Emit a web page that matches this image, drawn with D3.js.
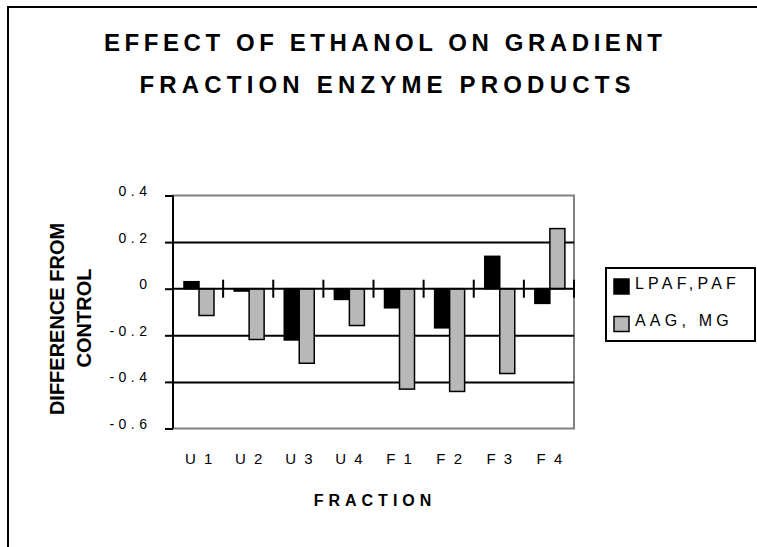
<!DOCTYPE html>
<html>
<head>
<meta charset="utf-8">
<script src="https://cdnjs.cloudflare.com/ajax/libs/d3/7.8.5/d3.min.js"></script>
<style>
  body { margin: 0; background: #fff; }
  svg { display: block; font-family: "Liberation Sans", Arial, sans-serif; }
</style>
</head>
<body>
<div id="chart"></div>
<script>
// ---- data ----
var categories = ["U 1", "U 2", "U 3", "U 4", "F 1", "F 2", "F 3", "F 4"];
var seriesNames = ["LPAF,PAF", "AAG, MG"];
var lpafValues = [0.03, -0.01, -0.22, -0.046, -0.082, -0.168, 0.139, -0.063];
var aagValues = [-0.115, -0.218, -0.32, -0.158, -0.431, -0.441, -0.364, 0.258];
var yTicks = [0.4, 0.2, 0, -0.2, -0.4, -0.6];
var yTickLabels = ["0.4", "0.2", "0", "-0.2", "-0.4", "-0.6"];
var colours = ["#000000", "#b8b8b8"];

var W = 757, H = 547;
var plot = {left: 173, right: 574, top: 195.5, bottom: 428.5};

var svg = d3.select("#chart").append("svg")
  .attr("width", W).attr("height", H);

// outer frame (right/bottom run off the picture)
svg.append("rect")
  .attr("x", 8).attr("y", 7).attr("width", 800).attr("height", 600)
  .attr("fill", "none").attr("stroke", "#000").attr("stroke-width", 2);

// title
var title = svg.append("text")
  .attr("text-anchor", "middle")
  .style("font-size", "24px").style("font-weight", "bold");
title.append("tspan").attr("x", 383).attr("y", 50.5)
  .attr("textLength", 558).attr("lengthAdjust", "spacing")
  .text("EFFECT OF ETHANOL ON GRADIENT");
title.append("tspan").attr("x", 385).attr("y", 92.5)
  .attr("textLength", 491).attr("lengthAdjust", "spacing")
  .text("FRACTION ENZYME PRODUCTS");

// scales
var x = d3.scaleBand().domain(categories).range([plot.left, plot.right]);
var xs = d3.scaleBand().domain(seriesNames).range([11, 41]);
var y = d3.scaleLinear().domain([-0.6, 0.4]).range([plot.bottom, plot.top]);

var rows = categories.map(function(c, i) {
  return {cat: c, vals: [lpafValues[i], aagValues[i]]};
});

// plot border (grey)
svg.append("rect")
  .attr("x", plot.left).attr("y", plot.top)
  .attr("width", plot.right - plot.left).attr("height", plot.bottom - plot.top)
  .attr("fill", "#fff").attr("stroke", "#808080").attr("stroke-width", 2);

// gridlines
var grid = svg.append("g")
  .attr("transform", "translate(" + plot.left + ",0)")
  .call(d3.axisLeft(y).tickValues([0.2, -0.2, -0.4]).tickSize(-(plot.right - plot.left)).tickFormat(""));
grid.select(".domain").remove();
grid.selectAll("line").attr("stroke", "#000").attr("stroke-width", 2);

// bars
var groups = svg.selectAll(".grp").data(rows).enter().append("g")
  .attr("transform", function(d) { return "translate(" + x(d.cat) + ",0)"; });
groups.selectAll("rect").data(function(d) {
    return d.vals.map(function(v, j) { return {name: seriesNames[j], v: v, j: j}; });
  }).enter().append("rect")
  .attr("x", function(d) { return xs(d.name); })
  .attr("width", xs.bandwidth())
  .attr("y", function(d) { return y(Math.max(0, d.v)); })
  .attr("height", function(d) { return Math.abs(y(d.v) - y(0)); })
  .attr("fill", function(d) { return colours[d.j]; })
  .attr("stroke", "#000").attr("stroke-width", 1.5);

// y axis
var yAxis = svg.append("g")
  .attr("transform", "translate(" + plot.left + ",0)")
  .call(d3.axisLeft(y).tickValues(yTicks).tickSize(8)
    .tickFormat(function(d, i) { return yTickLabels[i]; }));
yAxis.select(".domain").attr("stroke", "#000").attr("stroke-width", 2)
  .attr("d", "M0," + plot.top + "V" + plot.bottom);
yAxis.selectAll("line").attr("stroke", "#000").attr("stroke-width", 2);
yAxis.selectAll("text")
  .attr("x", -26 + 4.5).attr("dy", "0")
  .style("font-size", "14px").style("letter-spacing", "4.5px")
  .attr("fill", "#000").style("font-family", "'Liberation Sans', Arial, sans-serif");

// x axis at zero with crossing ticks
var xAxis = svg.append("g");
xAxis.append("line")
  .attr("x1", plot.left).attr("x2", plot.right)
  .attr("y1", y(0)).attr("y2", y(0))
  .attr("stroke", "#000").attr("stroke-width", 2);
xAxis.selectAll(".xt").data(categories).enter().append("line")
  .attr("x1", function(d) { return x(d) + x.bandwidth(); })
  .attr("x2", function(d) { return x(d) + x.bandwidth(); })
  .attr("y1", y(0) - 9).attr("y2", y(0) + 9)
  .attr("stroke", "#000").attr("stroke-width", 2);

// category labels
svg.selectAll(".xl").data(categories).enter().append("text")
  .attr("x", function(d) { return x(d) + x.bandwidth() / 2 + 1.5; })
  .attr("y", 464)
  .attr("text-anchor", "middle")
  .style("font-size", "15px").style("letter-spacing", "2px")
  .text(function(d) { return d; });

// axis titles
svg.append("text")
  .attr("x", 375).attr("y", 506).attr("text-anchor", "middle")
  .style("font-size", "16px").style("font-weight", "bold").style("letter-spacing", "5px")
  .text("FRACTION");

var yt = svg.append("text")
  .attr("transform", "rotate(-90)")
  .attr("text-anchor", "middle")
  .style("font-size", "20px").style("font-weight", "bold");
yt.append("tspan").attr("x", -319).attr("y", 64).text("DIFFERENCE FROM");
yt.append("tspan").attr("x", -318).attr("y", 91).text("CONTROL");

// legend
var legend = svg.append("g");
legend.append("rect")
  .attr("x", 606).attr("y", 268).attr("width", 149).attr("height", 73)
  .attr("fill", "#fff").attr("stroke", "#000").attr("stroke-width", 2);
var li = legend.selectAll(".li").data(seriesNames).enter().append("g")
  .attr("transform", function(d, i) { return "translate(0," + (i * 37.5) + ")"; });
li.append("rect")
  .attr("x", 614).attr("y", 279).attr("width", 15).attr("height", 15)
  .attr("fill", function(d, i) { return colours[i]; })
  .attr("stroke", "#000").attr("stroke-width", 1.5);
li.append("text")
  .attr("x", 635).attr("y", 288.5)
  .style("font-size", "16px").style("letter-spacing", "4.2px")
  .text(function(d) { return d; });
</script>
</body>
</html>
